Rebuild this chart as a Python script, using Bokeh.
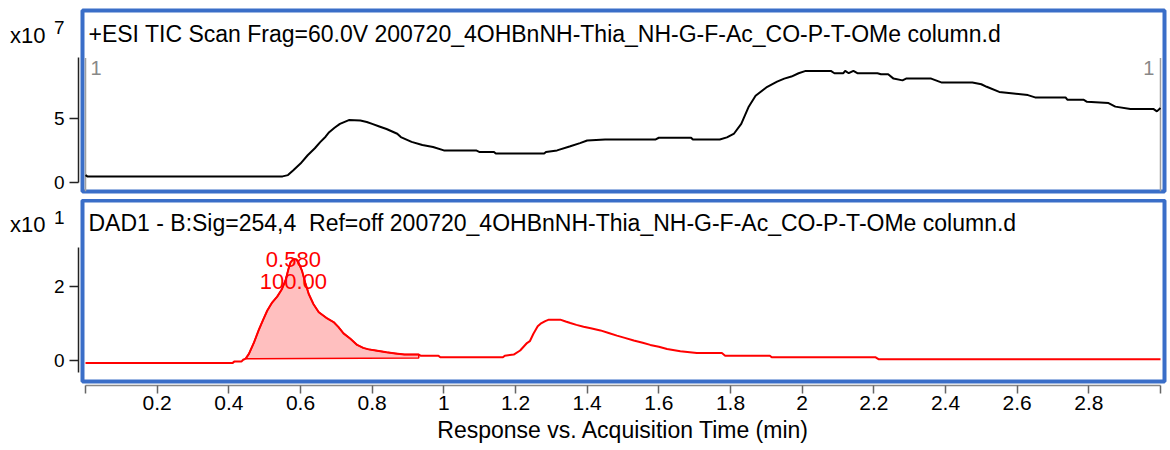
import numpy as np
from bokeh.plotting import figure
from bokeh.layouts import column
from bokeh.models import (Range1d, LinearAxis, FixedTicker, CustomJSTickFormatter, Label)
from bokeh.core.properties import value
from bokeh.embed import file_html
from bokeh.resources import INLINE

FONT = "Liberation Sans"
BLUE = "#3a6ec8"

# ---------------- texts ----------------
tic_title = "+ESI TIC Scan Frag=60.0V 200720_4OHBnNH-Thia_NH-G-F-Ac_CO-P-T-OMe column.d"
dad_title = "DAD1 - B:Sig=254,4\u00a0 Ref=off 200720_4OHBnNH-Thia_NH-G-F-Ac_CO-P-T-OMe column.d"
x_title = "Response vs. Acquisition Time (min)"
scale_base = "x10"
tic_scale_exp = "7"
dad_scale_exp = "1"

# ---------------- TIC trace (response in units of 1e7 counts) ----------------
tic_time = [0.0, 0.005, 0.55, 0.565, 0.58, 0.60, 0.62, 0.64, 0.655, 0.67, 0.68, 0.695, 0.71,
            0.735, 0.767, 0.785, 0.80, 0.82, 0.84, 0.87, 0.88, 0.91, 0.94, 0.97, 1.0, 1.09,
            1.10, 1.14, 1.145, 1.28, 1.285, 1.316, 1.353, 1.38, 1.40, 1.45, 1.59, 1.60, 1.69,
            1.695, 1.77, 1.79, 1.81, 1.83, 1.85, 1.87, 1.90, 1.93, 1.95, 1.97, 1.99, 2.01,
            2.08, 2.09, 2.115, 2.12, 2.13, 2.143, 2.154, 2.21, 2.22, 2.24, 2.255, 2.28, 2.29,
            2.36, 2.39, 2.475, 2.50, 2.515, 2.55, 2.59, 2.63, 2.65, 2.735, 2.74, 2.785, 2.795,
            2.855, 2.874, 2.916, 2.98, 2.99, 3.0]
tic_resp = [0.6, 0.5, 0.5, 0.6, 0.98, 1.5, 2.15, 2.7, 3.18, 3.6, 3.95, 4.3, 4.6,
            4.9, 4.86, 4.75, 4.6, 4.4, 4.2, 3.83, 3.57, 3.2, 2.95, 2.8, 2.53, 2.53,
            2.4, 2.4, 2.28, 2.28, 2.4, 2.53, 2.85, 3.1, 3.3, 3.38, 3.38, 3.52, 3.52,
            3.38, 3.38, 3.55, 3.85, 4.6, 5.9, 6.8, 7.45, 7.9, 8.14, 8.3, 8.56, 8.74,
            8.74, 8.56, 8.56, 8.74, 8.56, 8.74, 8.56, 8.56, 8.48, 8.48, 8.14, 8.0, 8.14,
            8.14, 7.83, 7.83, 7.7, 7.5, 7.1, 6.98, 6.85, 6.67, 6.67, 6.49, 6.49, 6.33,
            6.23, 5.95, 5.77, 5.77, 5.58, 5.84]

# ---------------- DAD trace (response in units of 10 mAU) ----------------
dad_time = [0.0, 0.41, 0.415, 0.435, 0.44, 0.447, 0.456, 0.47, 0.483, 0.495, 0.507, 0.52,
            0.535, 0.548, 0.558, 0.566, 0.572, 0.58, 0.589, 0.597, 0.604, 0.613, 0.623,
            0.636, 0.651, 0.672, 0.693, 0.706, 0.72, 0.74, 0.758, 0.775, 0.79, 0.81, 0.84,
            0.865, 0.89, 0.93, 0.935, 0.985, 0.99, 1.165, 1.17, 1.195, 1.213, 1.232, 1.24,
            1.25, 1.262, 1.27, 1.283, 1.293, 1.325, 1.34, 1.353, 1.37, 1.39, 1.41, 1.437,
            1.46, 1.483, 1.505, 1.53, 1.555, 1.576, 1.60, 1.623, 1.66, 1.706, 1.776, 1.785,
            1.91, 1.915, 2.204, 2.213, 3.0]
dad_resp = [-0.07, -0.07, -0.03, -0.03, 0.02, 0.05, 0.18, 0.48, 0.81, 1.08, 1.34, 1.55,
            1.72, 1.92, 2.15, 2.45, 2.64, 2.73, 2.72, 2.58, 2.42, 2.1, 1.79,
            1.52, 1.30, 1.15, 1.03, 0.9, 0.73, 0.58, 0.42, 0.34, 0.30, 0.27, 0.22,
            0.19, 0.16, 0.16, 0.13, 0.13, 0.09, 0.09, 0.13, 0.16, 0.27, 0.47, 0.52,
            0.72, 0.92, 0.99, 1.06, 1.10, 1.10, 1.05, 1.01, 0.96, 0.91, 0.87, 0.81,
            0.74, 0.67, 0.61, 0.54, 0.48, 0.42, 0.37, 0.31, 0.25, 0.20, 0.20, 0.13,
            0.13, 0.09, 0.09, 0.035, 0.035]

# integrated peak
peak_rt = [0.580]
peak_height = [2.73]
peak_rt_label = ["0.580"]
peak_area_label = ["100.00"]
integ_time = [0.447, 0.93]       # integration start / end
integ_base = [0.045, 0.07]       # baseline at start / end

# scan range markers (top panel)
marker_time = [0.0, 3.0]
marker_label = ["1", "1"]

# ticks
x_ticks = [0.0, 0.2, 0.4, 0.6, 0.8, 1.0, 1.2, 1.4, 1.6, 1.8, 2.0, 2.2, 2.4, 2.6, 2.8, 3.0]
x_tick_labels = ["", "0.2", "0.4", "0.6", "0.8", "1", "1.2", "1.4", "1.6", "1.8", "2",
                 "2.2", "2.4", "2.6", "2.8", ""]
tic_y_ticks = [0, 5]
tic_y_labels = ["0", "5"]
dad_y_ticks = [0, 2]
dad_y_labels = ["0", "2"]

# ---------------- layout constants ----------------
xr = Range1d(-0.0084, 3.0112)
FRAME_H = 181
TIC_Y = (-0.68, 13.46)
TIC_AXIS_BOUNDS = (0, 9.75)
DAD_Y = (-0.565, 4.307)
DAD_AXIS_BOUNDS = (-0.31, 3.05)


def label_formatter(vals, labels):
    return CustomJSTickFormatter(args=dict(tv=list(vals), tl=list(labels)), code="""
for (let i = 0; i < tv.length; i++) { if (Math.abs(tv[i] - tick) < 1e-6) return tl[i]; }
return "";
""")


def spacer_axis(size):
    return LinearAxis(ticker=FixedTicker(ticks=[0]), axis_line_color=None,
                      major_tick_line_color=None, minor_tick_line_color=None,
                      major_tick_in=0, major_tick_out=size, minor_tick_in=0, minor_tick_out=0,
                      major_label_text_font_size="1px", major_label_text_alpha=0,
                      major_label_standoff=0)


def text_axis(vals, labels, size, standoff):
    return LinearAxis(ticker=FixedTicker(ticks=list(vals)), formatter=label_formatter(vals, labels),
                      axis_line_color=None, major_tick_line_color=None, minor_tick_line_color=None,
                      major_tick_in=0, major_tick_out=0, minor_tick_in=0, minor_tick_out=0,
                      major_label_standoff=standoff, major_label_text_font=FONT,
                      major_label_text_font_size=size, major_label_text_color="black")


def make_panel(height, yr, min_top, min_bottom):
    p = figure(width=1170, height=height, x_range=xr, y_range=Range1d(*yr),
               x_axis_location=None, y_axis_location=None, toolbar_location=None,
               tools="", output_backend="svg",
               min_border_left=82, min_border_right=6,
               min_border_top=min_top, min_border_bottom=min_bottom)
    p.outline_line_color = BLUE
    p.outline_line_width = 4
    p.background_fill_color = "white"
    p.border_fill_color = "white"
    p.grid.grid_line_color = None
    return p


def add_y_axes(p, ticks, labels, bounds, exp, x10_off, exp_off):
    yr = p.y_range
    ppu = FRAME_H / (yr.end - yr.start)
    # axis line + ticks
    p.add_layout(spacer_axis(4), "left")
    p.add_layout(LinearAxis(ticker=FixedTicker(ticks=ticks), bounds=bounds,
                            axis_line_color="#222222", axis_line_width=1.5,
                            major_tick_line_color="#222222", major_tick_line_width=1.5,
                            major_tick_in=0, major_tick_out=9, minor_tick_line_color=None,
                            major_label_text_font_size="1px", major_label_text_alpha=0,
                            major_label_standoff=0), "left")
    # tick labels + scale exponent
    exp_y = yr.end - exp_off / ppu
    p.add_layout(text_axis(list(ticks) + [exp_y], list(labels) + [exp], "19px", 5), "left")
    # scale base "x10"
    x10_y = yr.end - x10_off / ppu
    p.add_layout(text_axis([x10_y], [scale_base], "22px", 5), "left")


def panel_title(p, txt, off):
    p.add_layout(Label(x=xr.start, y=p.y_range.end, x_offset=6, y_offset=-off,
                       text=txt, text_font=FONT, text_font_size="23px",
                       text_baseline="middle", text_align="left", text_color="black"))


# ---------------- top panel: TIC ----------------
p1 = make_panel(199, TIC_Y, 10, 8)
add_y_axes(p1, tic_y_ticks, tic_y_labels, TIC_AXIS_BOUNDS, tic_scale_exp, 25.4, 17.1)

p1.segment(x0=marker_time, x1=marker_time,
           y0=[TIC_AXIS_BOUNDS[1]] * len(marker_time), y1=[TIC_Y[0]] * len(marker_time),
           line_color="#a0a0a0", line_width=1.5)
p1.text(x=marker_time[:1], y=[TIC_AXIS_BOUNDS[1]], text=marker_label[:1],
        text_font=value(FONT), text_font_size="20px", text_color="#888888",
        text_align="left", text_baseline="top", x_offset=5, y_offset=3)
p1.text(x=marker_time[1:], y=[TIC_AXIS_BOUNDS[1]], text=marker_label[1:],
        text_font=value(FONT), text_font_size="20px", text_color="#888888",
        text_align="right", text_baseline="top", x_offset=-6, y_offset=3)
p1.line(tic_time, tic_resp, line_color="black", line_width=2)
panel_title(p1, tic_title, 23)

# ---------------- bottom panel: DAD ----------------
p2 = make_panel(251, DAD_Y, 1, 69)
add_y_axes(p2, dad_y_ticks, dad_y_labels, DAD_AXIS_BOUNDS, dad_scale_exp, 24.4, 17.0)
p2.add_layout(spacer_axis(4), "below")
xa = LinearAxis(ticker=FixedTicker(ticks=x_ticks), formatter=label_formatter(x_ticks, x_tick_labels),
                bounds=(x_ticks[0], x_ticks[-1]),
                axis_line_color="#888888", axis_line_width=1.5,
                major_tick_line_color="#666666", major_tick_line_width=1.5,
                major_tick_in=0, major_tick_out=8, minor_tick_line_color=None,
                major_label_standoff=2, major_label_text_font=FONT,
                major_label_text_font_size="21px", major_label_text_color="black",
                axis_label=x_title, axis_label_text_font=FONT,
                axis_label_text_font_size="23px", axis_label_text_font_style="normal",
                axis_label_text_color="black", axis_label_standoff=4)
p2.add_layout(xa, "below")

t = np.array(dad_time)
v = np.array(dad_resp)
mask = (t >= integ_time[0]) & (t <= integ_time[1])
px = list(t[mask]) + [integ_time[1], integ_time[0]]
py = list(v[mask]) + [integ_base[1], integ_base[0]]
p2.patch(px, py, fill_color="red", fill_alpha=0.25, line_color="red", line_width=1.5)
p2.line(dad_time, dad_resp, line_color="red", line_width=2)
p2.text(x=peak_rt, y=peak_height, text=peak_rt_label, text_font=value(FONT),
        text_font_size="22px", text_color="red", text_align="center", text_baseline="middle")
p2.text(x=peak_rt, y=peak_height, text=peak_area_label, text_font=value(FONT),
        text_font_size="22px", text_color="red", text_align="center", text_baseline="middle",
        y_offset=22)
panel_title(p2, dad_title, 22)

layout = column(p1, p2, spacing=0)
open("out.html", "w").write(file_html(layout, INLINE))
